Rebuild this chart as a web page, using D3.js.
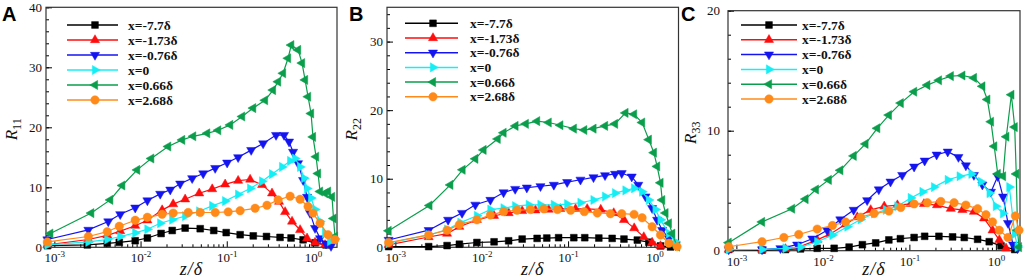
<!DOCTYPE html>
<html>
<head>
<meta charset="utf-8">
<script src="https://cdn.jsdelivr.net/npm/d3@7"></script>
<style>
  body { margin: 0; background: #fff; }
  svg { display: block; }
</style>
</head>
<body>
<svg id="chart" width="1024" height="280"></svg>
<script>
// legend entries, one per streamwise station
const seriesNames = ["x=-7.7δ", "x=-1.73δ", "x=-0.76δ", "x=0", "x=0.66δ", "x=2.68δ"];
const seriesColors = ["#000000", "#ff0d0d", "#1414f0", "#14eef4", "#0a9e4c", "#ff8a1a"];
const seriesShapes = ["square", "up", "down", "right", "left", "circle"];

const xDomain = [8e-4, 1.9];
const xTickPowers = [-3, -2, -1, 0];

// ---- panel A : R11 ----
const zA_k = [8.3e-4, 2.41e-3, 4.11e-3, 5.66e-3, 8.67e-3, 0.012, 0.0173, 0.0233, 0.0329, 0.0492, 0.0706, 0.0985, 0.143, 0.203, 0.289, 0.415, 0.557, 0.768, 1.057, 1.418];
const rA_k = [0.27, 0.4, 0.67, 0.83, 1.1, 1.55, 2.3, 2.8, 3.2, 3.1, 2.8, 2.45, 2.1, 1.9, 1.8, 1.65, 1.55, 1.25, 0.75, 0.4];
const zA_r = [8.3e-4, 2.48e-3, 4.11e-3, 5.81e-3, 8.67e-3, 0.012, 0.0178, 0.0239, 0.0329, 0.0479, 0.0678, 0.0958, 0.1355, 0.1866, 0.257, 0.335, 0.404, 0.475, 0.572, 0.709, 0.854, 1.057, 1.38];
const rA_r = [0.4, 1.3, 2.0, 2.7, 3.6, 4.5, 6.2, 7.2, 8.0, 9.0, 9.7, 10.5, 11.1, 11.3, 10.4, 9.0, 7.6, 5.9, 4.3, 2.9, 1.5, 0.8, 0.4];
const zA_b = [8.3e-4, 2.48e-3, 4.22e-3, 5.81e-3, 8.67e-3, 0.012, 0.0169, 0.0221, 0.0288, 0.0397, 0.0533, 0.0734, 0.101, 0.1355, 0.192, 0.264, 0.373, 0.462, 0.528, 0.588, 0.672, 0.768, 0.854, 0.925, 1.057, 1.208, 1.418, 1.62];
const rA_b = [1.3, 2.9, 4.3, 5.5, 6.6, 7.8, 8.9, 9.6, 10.6, 11.5, 12.3, 13.2, 14.1, 15.0, 16.2, 17.3, 18.7, 18.7, 17.6, 15.9, 14.0, 11.2, 8.4, 5.7, 3.2, 1.5, 0.6, 0.2];
const zA_c = [8.3e-4, 2.48e-3, 4.11e-3, 5.81e-3, 8.67e-3, 0.012, 0.0169, 0.0233, 0.0329, 0.0479, 0.0678, 0.0958, 0.1355, 0.1866, 0.257, 0.335, 0.438, 0.543, 0.62, 0.709, 0.788, 0.854, 0.95, 1.057, 1.208, 1.38, 1.577, 1.8];
const rA_c = [0.4, 0.9, 1.3, 1.8, 2.4, 3.0, 4.0, 4.6, 5.2, 6.0, 6.9, 7.7, 8.8, 9.8, 11.0, 12.2, 13.4, 14.4, 14.8, 13.4, 11.5, 9.8, 8.2, 6.3, 4.3, 2.3, 1.0, 1.4];
const zA_g = [8.98e-4, 2.68e-3, 4.45e-3, 6.13e-3, 9.14e-3, 0.0133, 0.0209, 0.0304, 0.0408, 0.0593, 0.0795, 0.1095, 0.1508, 0.2025, 0.278, 0.344, 0.394, 0.45, 0.514, 0.56, 0.672, 0.747, 0.81, 0.877, 0.95, 1.0, 1.086, 1.145, 1.208, 1.38, 1.495, 1.664, 1.73, 1.8];
const rA_g = [2.3, 5.7, 7.9, 10.3, 12.9, 14.8, 16.8, 17.9, 18.5, 19.0, 19.5, 20.4, 21.8, 23.2, 24.5, 26.2, 27.6, 29.0, 31.5, 33.7, 32.9, 30.7, 27.9, 25.1, 22.3, 18.4, 15.1, 12.3, 9.3, 9.0, 9.3, 8.4, 4.8, 1.8];
const zA_o = [8.3e-4, 2.48e-3, 4.11e-3, 5.66e-3, 8.67e-3, 0.012, 0.0178, 0.0239, 0.0357, 0.0492, 0.0734, 0.1038, 0.1429, 0.2132, 0.293, 0.394, 0.543, 0.709, 0.877, 1.0, 1.208, 1.495, 1.8];
const rA_o = [0.9, 1.8, 2.6, 3.5, 4.5, 5.0, 5.5, 5.7, 5.8, 5.8, 5.8, 5.9, 6.1, 6.5, 7.0, 7.9, 8.5, 8.0, 6.8, 5.7, 4.0, 2.1, 1.3];

// ---- panel B : R22 ----
const zB_k = [8.35e-4, 2.43e-3, 3.97e-3, 5.51e-3, 8.8e-3, 0.0139, 0.0205, 0.0294, 0.0438, 0.0567, 0.0777, 0.1165, 0.156, 0.227, 0.324, 0.444, 0.634, 0.861, 1.176, 1.535];
const rB_k = [0.1, 0.1, 0.25, 0.45, 0.7, 0.8, 0.95, 1.2, 1.3, 1.35, 1.4, 1.4, 1.4, 1.35, 1.3, 1.2, 1.05, 0.75, 0.2, 0.05];
const zB_r = [8.35e-4, 2.43e-3, 3.97e-3, 5.51e-3, 8.8e-3, 0.0139, 0.0205, 0.0294, 0.0419, 0.0596, 0.0813, 0.122, 0.1665, 0.239, 0.338, 0.444, 0.583, 0.753, 0.941, 1.176];
const rB_r = [0.35, 1.5, 2.0, 3.0, 4.0, 4.6, 5.0, 5.3, 5.4, 5.5, 5.6, 5.6, 5.6, 5.5, 5.0, 4.0, 2.8, 1.5, 0.7, 0.2];
const zB_b = [8.35e-4, 2.43e-3, 4.08e-3, 5.92e-3, 8.43e-3, 0.0126, 0.0179, 0.0244, 0.0333, 0.0479, 0.0684, 0.0976, 0.1392, 0.197, 0.268, 0.35, 0.418, 0.546, 0.65, 0.788, 0.941, 1.075, 1.23, 1.47, 1.755];
const rB_b = [1.07, 2.5, 4.0, 5.0, 6.2, 6.9, 8.0, 8.5, 8.7, 8.9, 9.1, 9.5, 9.85, 10.2, 10.5, 10.7, 10.8, 10.3, 9.1, 7.4, 5.7, 4.0, 2.5, 1.3, 0.3];
const zB_c = [8.35e-4, 2.43e-3, 3.97e-3, 5.66e-3, 8.8e-3, 0.0126, 0.0179, 0.0244, 0.0351, 0.0479, 0.0684, 0.0976, 0.1392, 0.197, 0.268, 0.35, 0.462, 0.581, 0.72, 0.861, 1.03, 1.176, 1.47, 1.755];
const rB_c = [0.6, 1.8, 2.6, 3.6, 4.6, 5.5, 5.7, 6.0, 6.2, 6.2, 6.2, 6.3, 6.5, 6.9, 7.4, 7.9, 8.3, 8.6, 8.1, 6.9, 5.5, 4.0, 2.0, 0.8];
const zB_g = [8.35e-4, 2.48e-3, 4.33e-3, 6.0e-3, 8.43e-3, 0.0105, 0.0153, 0.0179, 0.0246, 0.0324, 0.0438, 0.0596, 0.0813, 0.1165, 0.154, 0.197, 0.268, 0.35, 0.462, 0.581, 0.72, 0.861, 0.985, 1.075, 1.176, 1.23, 1.344, 1.47, 1.61, 1.83];
const rB_g = [2.4, 6.1, 9.1, 11.3, 12.9, 14.2, 15.8, 16.7, 17.7, 18.0, 18.4, 18.2, 17.8, 17.3, 17.1, 17.3, 17.7, 18.0, 19.6, 19.4, 18.2, 15.7, 13.8, 11.8, 9.4, 6.9, 5.0, 3.5, 2.0, 0.1];
const zB_o = [8.35e-4, 2.43e-3, 3.97e-3, 5.51e-3, 8.8e-3, 0.0126, 0.0179, 0.0256, 0.0367, 0.0525, 0.0753, 0.107, 0.154, 0.218, 0.309, 0.418, 0.581, 0.72, 0.941, 1.176, 1.47, 1.83];
const rB_o = [0.7, 1.8, 2.5, 3.3, 4.0, 4.7, 5.2, 5.4, 5.5, 5.6, 5.5, 5.4, 5.2, 5.0, 4.9, 4.9, 4.8, 4.3, 3.0, 1.8, 0.6, 0.1];

// ---- panel C : R33 ----
const zC_k = [8.14e-4, 1.98e-3, 3.70e-3, 5.51e-3, 8.6e-3, 0.0135, 0.0201, 0.0286, 0.0408, 0.0579, 0.0787, 0.1134, 0.1502, 0.2196, 0.316, 0.431, 0.615, 0.838, 1.145, 1.65];
const rC_k = [0.1, 0.05, 0.1, 0.15, 0.2, 0.2, 0.3, 0.5, 0.65, 0.9, 1.0, 1.1, 1.2, 1.2, 1.15, 1.1, 0.95, 0.75, 0.4, 0.1];
const zC_r = [8.14e-4, 1.98e-3, 3.70e-3, 5.26e-3, 8.6e-3, 0.0122, 0.0183, 0.025, 0.0357, 0.0512, 0.0727, 0.1038, 0.1473, 0.2085, 0.301, 0.41, 0.557, 0.73, 0.915, 1.095, 1.31];
const rC_r = [0.1, 0.1, 0.15, 0.3, 0.9, 1.4, 2.2, 2.8, 3.4, 3.7, 3.8, 3.9, 3.9, 3.8, 3.5, 3.4, 3.25, 2.7, 1.7, 0.9, 0.2];
const zC_b = [8.14e-4, 1.98e-3, 3.23e-3, 5.04e-3, 7.55e-3, 0.0112, 0.0159, 0.0227, 0.0325, 0.0443, 0.0605, 0.0826, 0.1134, 0.1502, 0.2065, 0.2775, 0.369, 0.45, 0.557, 0.698, 0.877, 1.05, 1.21, 1.38, 1.58, 1.78];
const rC_b = [0.1, 0.1, 0.2, 0.5, 1.0, 1.7, 2.6, 3.4, 4.2, 5.1, 5.75, 6.3, 7.0, 7.5, 8.0, 8.25, 7.8, 7.1, 6.3, 5.5, 4.9, 6.2, 4.5, 2.3, 0.5, 0.2];
const zC_c = [8.14e-4, 1.98e-3, 3.70e-3, 5.51e-3, 8.6e-3, 0.0129, 0.0192, 0.0273, 0.0391, 0.0535, 0.0727, 0.1038, 0.1417, 0.1925, 0.2775, 0.381, 0.522, 0.672, 0.845, 1.0, 1.21, 1.43, 1.65, 1.78];
const rC_c = [0.1, 0.1, 0.2, 0.3, 0.75, 1.3, 2.0, 2.6, 3.1, 3.4, 3.7, 4.4, 4.9, 5.3, 5.9, 6.2, 6.4, 5.75, 4.8, 3.7, 3.1, 5.3, 1.4, 0.3];
const zC_g = [8.14e-4, 1.98e-3, 4.4e-3, 6.3e-3, 8.3e-3, 0.0117, 0.0159, 0.0227, 0.0311, 0.0425, 0.0579, 0.0795, 0.1134, 0.1612, 0.2196, 0.301, 0.41, 0.557, 0.698, 0.796, 0.877, 0.957, 1.05, 1.21, 1.32, 1.51, 1.65, 1.72, 1.78, 1.85];
const rC_g = [0.67, 2.4, 3.5, 4.3, 5.1, 5.9, 6.7, 7.9, 8.9, 10.2, 11.3, 12.3, 13.25, 13.8, 14.2, 14.55, 14.6, 14.4, 13.7, 12.6, 10.75, 8.7, 6.4, 6.2, 9.5, 13.0, 10.3, 6.4, 1.7, 0.3];
const zC_o = [8.14e-4, 1.98e-3, 3.54e-3, 5.26e-3, 8.6e-3, 0.0129, 0.0183, 0.0273, 0.0391, 0.0579, 0.0795, 0.1134, 0.1612, 0.231, 0.329, 0.45, 0.615, 0.768, 0.915, 1.095, 1.38, 1.68, 1.85];
const rC_o = [0.33, 0.75, 1.1, 1.35, 1.8, 2.1, 2.4, 2.8, 3.1, 3.3, 3.6, 3.9, 4.0, 4.1, 4.0, 3.8, 3.5, 3.0, 2.4, 1.7, 1.1, 2.9, 1.7];

const panels = [
  { letter: "A", sub: "11", left: 46, right: 337, top: 7.3, bottom: 247.3, yMax: 40, yTicks: [0, 10, 20, 30, 40], pad: 4,
    series: [[zA_k, rA_k], [zA_r, rA_r], [zA_b, rA_b], [zA_c, rA_c], [zA_g, rA_g], [zA_o, rA_o]],
    leg: { x1: 21, x2: 72, xm: 49, xt: 82, y0: 25, dy: 15 }, titleX: 17, letterX: 2 },
  { letter: "B", sub: "22", left: 387, right: 678.5, top: 7.3, bottom: 247.3, yMax: 35, yTicks: [0, 10, 20, 30], pad: 4,
    series: [[zB_k, rB_k], [zB_r, rB_r], [zB_b, rB_b], [zB_c, rB_c], [zB_g, rB_g], [zB_o, rB_o]],
    leg: { x1: 18, x2: 71, xm: 46, xt: 83, y0: 23.3, dy: 14.7 }, titleX: 357, letterX: 349 },
  { letter: "C", sub: "33", left: 728, right: 1020, top: 10.7, bottom: 250.7, yMax: 20, yTicks: [0, 10, 20], pad: 8,
    series: [[zC_k, rC_k], [zC_r, rC_r], [zC_b, rC_b], [zC_c, rC_c], [zC_g, rC_g], [zC_o, rC_o]],
    leg: { x1: 13, x2: 69, xm: 41, xt: 74, y0: 25, dy: 14.8 }, titleX: 696, letterX: 681 }
];

const svg = d3.select("#chart");
const serif = "'Liberation Serif', 'Times New Roman', serif";

function markerPath(shape) {
  if (shape === "square") return d3.symbol(d3.symbolSquare, 46)();
  if (shape === "circle") return d3.symbol(d3.symbolCircle, 56)();
  return d3.symbol(d3.symbolTriangle, 36)();
}
const rot = { up: 0, right: 90, down: 180, left: 270, square: 0, circle: 0 };

function drawMarker(g, i, cx, cy) {
  g.append("path")
    .attr("d", markerPath(seriesShapes[i]))
    .attr("transform", `translate(${cx},${cy}) rotate(${rot[seriesShapes[i]]})`)
    .attr("fill", seriesColors[i])
    .attr("stroke", seriesColors[i])
    .attr("stroke-width", 0.5);
}

panels.forEach(p => {
  const g = svg.append("g");
  const x = d3.scaleLog().domain(xDomain).range([p.left, p.right]);
  const y = d3.scaleLinear().domain([0, p.yMax]).range([p.bottom, p.top]);

  // minor x ticks (2..9 of each decade)
  const minorX = [];
  for (let e = -4; e <= 0; e++) {
    for (let m = 2; m <= 9; m++) {
      const v = m * Math.pow(10, e);
      if (v > xDomain[0] && v < xDomain[1]) minorX.push(v);
    }
  }
  g.append("g")
    .attr("transform", `translate(0,${p.bottom})`)
    .call(d3.axisBottom(x).tickValues(minorX).tickSize(-3).tickFormat(""))
    .call(a => a.select(".domain").remove());

  const xMajor = g.append("g")
    .attr("transform", `translate(0,${p.bottom})`)
    .call(d3.axisBottom(x).tickValues(xTickPowers.map(e => Math.pow(10, e))).tickSize(-6).tickFormat(""))
    .call(a => a.select(".domain").remove());
  xMajor.selectAll(".tick text").remove();
  xMajor.selectAll(".tick").each(function (d, i) {
    const t = d3.select(this).append("text")
      .attr("y", 15)
      .attr("text-anchor", "middle")
      .attr("font-family", serif)
      .attr("font-size", 13)
      .attr("fill", "#111");
    t.append("tspan").text("10");
    t.append("tspan").attr("dy", -5).attr("font-size", 9).text(xTickPowers[i]);
  });

  // y ticks
  g.append("g")
    .attr("transform", `translate(${p.left},0)`)
    .call(d3.axisLeft(y).tickValues(d3.range(0, p.yMax + 0.01, 2)).tickSize(-3).tickFormat(""))
    .call(a => a.select(".domain").remove());
  g.append("g")
    .attr("transform", `translate(${p.left},0)`)
    .call(d3.axisLeft(y).tickValues(p.yTicks).tickSize(-6).tickPadding(p.pad))
    .call(a => a.select(".domain").remove())
    .call(a => a.selectAll("text").attr("font-family", serif).attr("font-size", 13).attr("fill", "#111"));

  // frame
  g.append("rect")
    .attr("x", p.left).attr("y", p.top)
    .attr("width", p.right - p.left).attr("height", p.bottom - p.top)
    .attr("fill", "none").attr("stroke", "#333").attr("stroke-width", 1.2);

  // curves
  const line = d3.line().x(d => x(d[0])).y(d => y(d[1]));
  p.series.forEach((s, i) => {
    const pts = d3.zip(s[0], s[1]);
    g.append("path")
      .datum(pts)
      .attr("d", line)
      .attr("fill", "none")
      .attr("stroke", seriesColors[i])
      .attr("stroke-width", 1.2);
    const mg = g.append("g");
    pts.forEach(d => drawMarker(mg, i, x(d[0]), y(d[1])));
  });

  // legend
  const L = p.leg;
  seriesNames.forEach((name, i) => {
    const ly = L.y0 + i * L.dy;
    g.append("line")
      .attr("x1", p.left + L.x1).attr("x2", p.left + L.x2)
      .attr("y1", ly).attr("y2", ly)
      .attr("stroke", seriesColors[i]).attr("stroke-width", 1.5);
    drawMarker(g, i, p.left + L.xm, ly);
    g.append("text")
      .attr("x", p.left + L.xt).attr("y", ly + 4.5)
      .attr("font-family", serif).attr("font-weight", "bold").attr("font-size", 13.5)
      .attr("fill", "#111")
      .text(name);
  });

  // axis titles
  g.append("text")
    .attr("x", (p.left + p.right) / 2).attr("y", 275)
    .attr("text-anchor", "middle")
    .attr("font-family", serif).attr("font-style", "italic").attr("font-size", 18)
    .attr("letter-spacing", 1)
    .attr("fill", "#111")
    .text("z/δ");

  const yt = g.append("text")
    .attr("transform", `translate(${p.titleX},${(p.top + p.bottom) / 2 + 2}) rotate(-90)`)
    .attr("text-anchor", "middle")
    .attr("font-family", serif).attr("font-style", "italic").attr("font-size", 17)
    .attr("fill", "#111");
  yt.append("tspan").text("R");
  yt.append("tspan").attr("dy", 4).attr("font-size", 12).attr("font-style", "normal").text(p.sub);

  // panel letter
  svg.append("text")
    .attr("x", p.letterX).attr("y", 21)
    .attr("font-family", "'Liberation Sans', Arial, sans-serif")
    .attr("font-weight", "bold").attr("font-size", 20)
    .attr("fill", "#000")
    .text(p.letter);
});
</script>
</body>
</html>
